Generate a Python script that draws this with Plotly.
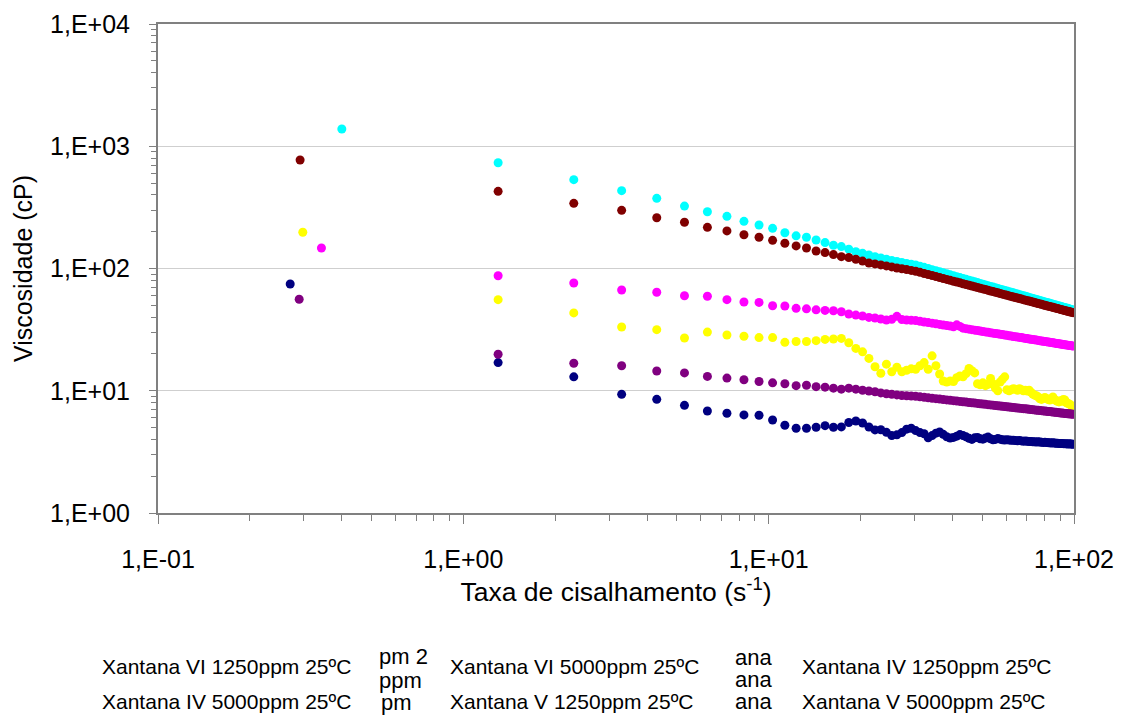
import plotly.graph_objects as go

# ---------------- data ----------------
shear_rate = [1.3, 2.3, 3.3, 4.3, 5.3, 6.3, 7.3, 8.3, 9.3, 10.3,
              11.3, 12.3, 13.3, 14.3, 15.3, 16.3, 17.3, 18.3, 19.3, 20.3,
              21.3, 22.3, 23.3, 24.3, 25.3, 26.3, 27.3, 28.3, 29.3, 30.3,
              31.3, 32.3, 33.3, 34.3, 35.3, 36.3, 37.3, 38.3, 39.3, 40.3,
              41.3, 42.3, 43.3, 44.3, 45.3, 46.3, 47.3, 48.3, 49.3, 50.3,
              51.3, 52.3, 53.3, 54.3, 55.3, 56.3, 57.3, 58.3, 59.3, 60.3,
              61.3, 62.3, 63.3, 64.3, 65.3, 66.3, 67.3, 68.3, 69.3, 70.3,
              71.3, 72.3, 73.3, 74.3, 75.3, 76.3, 77.3, 78.3, 79.3, 80.3,
              81.3, 82.3, 83.3, 84.3, 85.3, 86.3, 87.3, 88.3, 89.3, 90.3,
              91.3, 92.3, 93.3, 94.3, 95.3, 96.3, 97.3, 98.3, 99.3]

# first (low-rate) point of every series
first_x = {"navy": 0.271, "magenta": 0.343, "yellow": 0.298,
           "cyan": 0.40, "purple": 0.290, "maroon": 0.292}
first_y = {"navy": 74.7, "magenta": 147, "yellow": 198,
           "cyan": 1384, "purple": 56.0, "maroon": 772}

visc_vi_1250 = [17.0, 13.0, 9.35, 8.51, 7.60, 6.83, 6.54, 6.34, 6.30, 5.76,
                5.22, 4.93, 4.93, 5.03, 5.18, 5.03, 5.06, 5.50, 5.66, 5.45,
                5.05, 4.78, 4.80, 4.57, 4.30, 4.36, 4.55, 4.85, 4.93, 4.72,
                4.55, 4.45, 4.12, 4.30, 4.50, 4.60, 4.40, 4.20, 4.10, 4.15,
                4.25, 4.38, 4.30, 4.20, 4.08, 4.00, 4.12, 4.15, 4.05, 4.02,
                4.10, 4.18, 4.05, 3.97, 4.00, 4.06, 4.02, 3.97, 3.95, 3.98,
                3.95, 3.93, 3.94, 3.92, 3.90, 3.91, 3.89, 3.87, 3.88, 3.86,
                3.84, 3.85, 3.83, 3.82, 3.81, 3.82, 3.80, 3.79, 3.78, 3.79,
                3.77, 3.76, 3.75, 3.74, 3.75, 3.73, 3.72, 3.72, 3.71, 3.70,
                3.70, 3.69, 3.69, 3.68, 3.67, 3.68, 3.66, 3.66, 3.65]

visc_vi_5000 = [87.3, 76.1, 66.7, 63.9, 59.9, 59.3, 55.6, 53.2, 52.8, 49.6,
                49.3, 47.2, 46.8, 45.9, 45.4, 45.1, 44.3, 42.4, 41.6, 40.9,
                39.8, 39.4, 38.6, 37.9, 38.4, 40.6, 38.3, 37.9, 37.7, 37.5,
                37.0, 36.5, 36.1, 35.7, 35.3, 34.9, 34.5, 34.1, 33.8, 33.4,
                34.6, 33.6, 32.5, 32.2, 31.9, 31.6, 31.3, 31.1, 30.8, 30.5,
                30.3, 30.1, 29.8, 29.6, 29.4, 29.2, 29.0, 28.8, 28.6, 28.4,
                28.2, 28.0, 27.8, 27.7, 27.5, 27.3, 27.2, 27.0, 26.8, 26.7,
                26.5, 26.4, 26.2, 26.1, 26.0, 25.8, 25.7, 25.5, 25.4, 25.3,
                25.2, 25.0, 24.9, 24.8, 24.7, 24.6, 24.4, 24.3, 24.2, 24.1,
                24.0, 23.9, 23.8, 23.7, 23.6, 23.5, 23.4, 23.3, 23.2]

visc_iv_1250 = [55.6, 43.3, 33.2, 31.6, 27.0, 30.2, 28.6, 27.9, 27.2, 27.2,
                24.9, 25.3, 25.3, 25.7, 26.3, 26.5, 26.8, 24.7, 22.2, 20.8,
                18.4, 15.7, 13.9, 16.5, 14.3, 15.6, 14.3, 14.7, 15.1, 15.0,
                16.0, 17.0, 15.0, 19.3, 16.0, 13.7, 12.0, 11.8, 12.0, 11.9,
                12.8, 13.2, 13.0, 13.8, 15.2, 14.6, 14.0, 11.4, 11.2, 11.6,
                11.0, 11.3, 12.6, 11.4, 10.5, 10.0, 11.8, 12.4, 13.0, 10.2,
                10.0, 10.2, 10.4, 10.3, 10.1, 10.4, 10.2, 10.0, 10.1, 9.95,
                10.1, 9.7, 9.4, 9.2, 9.1, 8.9, 8.6, 8.5, 8.7, 8.8,
                8.6, 8.5, 8.4, 8.6, 8.9, 8.5, 8.3, 8.2, 8.1, 8.3,
                8.2, 8.5, 8.4, 8.0, 7.9, 7.8, 7.7, 7.5, 7.4]

visc_iv_5000 = [733, 533, 433, 375, 324, 291, 267, 243, 227, 213,
                196, 185, 180, 171, 163, 155, 151, 144, 137, 133,
                129, 125, 122, 119, 116.5, 114, 112, 110, 108.5, 107,
                104.5, 102.2, 100.0, 97.9, 95.9, 94.0, 92.2, 90.5, 88.8, 87.3,
                85.8, 84.3, 82.9, 81.5, 80.3, 79.0, 77.8, 76.7, 75.5, 74.5,
                73.4, 72.4, 71.4, 70.5, 69.6, 68.7, 67.8, 67.0, 66.2, 65.4,
                64.6, 63.9, 63.2, 62.5, 61.8, 61.1, 60.5, 59.8, 59.2, 58.6,
                58.0, 57.4, 56.9, 56.3, 55.8, 55.3, 54.8, 54.3, 53.8, 53.3,
                52.8, 52.4, 51.9, 51.5, 51.1, 50.6, 50.2, 49.8, 49.4, 49.0,
                48.6, 48.3, 47.9, 47.5, 47.2, 46.8, 46.5, 46.1, 45.8]

visc_v_1250 = [19.9, 16.8, 16.0, 14.5, 14.0, 13.1, 12.7, 12.3, 11.9, 11.6,
               11.4, 11.0, 11.1, 10.8, 10.7, 10.5, 10.3, 10.5, 10.3, 10.1,
               9.95, 9.82, 9.6, 9.45, 9.35, 9.25, 9.15, 9.1, 9.05, 9.00,
               8.92, 8.84, 8.76, 8.69, 8.62, 8.55, 8.48, 8.42, 8.36, 8.30,
               8.24, 8.18, 8.13, 8.08, 8.02, 7.97, 7.93, 7.88, 7.83, 7.79,
               7.74, 7.70, 7.66, 7.62, 7.58, 7.54, 7.50, 7.47, 7.43, 7.40,
               7.36, 7.33, 7.29, 7.26, 7.23, 7.20, 7.17, 7.14, 7.11, 7.08,
               7.05, 7.02, 7.00, 6.97, 6.94, 6.92, 6.89, 6.87, 6.84, 6.82,
               6.79, 6.77, 6.75, 6.72, 6.70, 6.68, 6.66, 6.63, 6.61, 6.59,
               6.57, 6.55, 6.53, 6.51, 6.49, 6.47, 6.45, 6.44, 6.42]

visc_v_5000 = [428, 341, 299, 260, 239, 217, 203, 189, 180, 170,
               161, 153, 147, 139, 135, 130, 125, 123, 119, 115,
               111, 109, 107, 105, 103, 101, 99.5, 98.0, 96.5, 95.0,
               93.0, 91.1, 89.3, 87.6, 85.9, 84.3, 82.9, 81.4, 80.0, 78.7,
               77.5, 76.3, 75.1, 74.0, 72.9, 71.9, 70.9, 69.9, 69.0, 68.1,
               67.2, 66.3, 65.5, 64.7, 63.9, 63.2, 62.5, 61.7, 61.1, 60.4,
               59.7, 59.1, 58.5, 57.9, 57.3, 56.7, 56.2, 55.6, 55.1, 54.6,
               54.1, 53.6, 53.1, 52.6, 52.2, 51.7, 51.3, 50.9, 50.4, 50.0,
               49.6, 49.2, 48.8, 48.5, 48.1, 47.7, 47.4, 47.0, 46.7, 46.3,
               46.0, 45.6, 45.3, 45.0, 44.7, 44.4, 44.1, 43.8, 43.5]

series_names = ["Xantana VI 1250ppm 25ºC", "Xantana VI 5000ppm 25ºC",
                "Xantana IV 1250ppm 25ºC", "Xantana IV 5000ppm 25ºC",
                "Xantana V 1250ppm 25ºC", "Xantana V 5000ppm 25ºC"]
series_keys = ["navy", "magenta", "yellow", "cyan", "purple", "maroon"]
series_values = [visc_vi_1250, visc_vi_5000, visc_iv_1250,
                 visc_iv_5000, visc_v_1250, visc_v_5000]
series_colors = ["#000080", "#FF00FF", "#FFFF00", "#00FFFF", "#800080", "#800000"]

x_ticks = [0.1, 1, 10, 100]
x_ticktext = ["1,E-01", "1,E+00", "1,E+01", "1,E+02"]
y_ticks = [1, 10, 100, 1000, 10000]
y_ticktext = ["1,E+00", "1,E+01", "1,E+02", "1,E+03", "1,E+04"]

# ---------------- figure ----------------
FONT = "Arial, 'Liberation Sans', sans-serif"
OFF = 8                      # page body margin of the html page
W, H = 1129 - OFF, 720 - OFF
# plot area in page pixels: x 158..1074, y 24..513
L, T = 158 - OFF, 24 - OFF
R = W - (1074 - OFF)
B = H - (513 - OFF)
PW, PH = W - L - R, H - T - B

fig = go.Figure()
for name, key, vals, col in zip(series_names, series_keys, series_values, series_colors):
    fig.add_trace(go.Scatter(
        x=[first_x[key]] + shear_rate,
        y=[first_y[key]] + vals,
        mode="markers", name=name,
        marker=dict(color=col, size=9, line=dict(width=0)),
        showlegend=False,
    ))

minor_x = [m * 10 ** e for e in (-1, 0, 1) for m in range(2, 10)]
minor_y = [m * 10 ** e for e in (0, 1, 2, 3) for m in range(2, 10)]

fig.update_xaxes(
    type="log", range=[-1, 2],
    tickmode="array", tickvals=x_ticks, ticktext=x_ticktext,
    ticks="outside", ticklen=9, tickwidth=1, tickcolor="#808080",
    ticklabelstandoff=14,
    showline=True, linecolor="#808080", linewidth=2, mirror=True,
    showgrid=False, zeroline=False,
    minor=dict(tickmode="array", tickvals=minor_x, ticks="outside",
               ticklen=6, tickcolor="#808080", showgrid=False),
    tickfont=dict(family=FONT, size=25, color="black"),
    title=dict(text="Taxa de cisalhamento (s<sup>-1</sup>)",
               font=dict(family=FONT, size=26.5, color="black"), standoff=0),
)
fig.update_yaxes(
    type="log", range=[0, 4],
    tickmode="array", tickvals=y_ticks, ticktext=y_ticktext,
    ticks="outside", ticklen=7, tickwidth=1, tickcolor="#808080",
    ticklabelstandoff=14,
    showline=True, linecolor="#808080", linewidth=2, mirror=True,
    showgrid=True, gridcolor="#cfcfcf", gridwidth=1.2, zeroline=False,
    minor=dict(tickmode="array", tickvals=minor_y, ticks="outside",
               ticklen=5, tickcolor="#808080", showgrid=False),
    tickfont=dict(family=FONT, size=25, color="black"),
    title=dict(text="Viscosidade (cP)",
               font=dict(family=FONT, size=25, color="black"), standoff=10),
)

def px_to_paper(px, py):
    # page pixel -> paper coordinates of the plot area
    return (px - OFF - L) / PW, (H - B - (py - OFF)) / PH

annotations = []
legend_pos = [(100, 666), (448, 666), (800, 666),
              (100, 701), (448, 701), (800, 701)]
for name, (px, py) in zip(series_names, legend_pos):
    ax, ay = px_to_paper(px, py)
    annotations.append(dict(text=name, x=ax, y=ay, xref="paper", yref="paper",
                            xanchor="left", yanchor="middle", showarrow=False,
                            font=dict(family=FONT, size=21, color="black")))

# clipped legend fragments visible in the original image
fragments = [("pm 2", 377, 656), ("ppm", 377, 680), ("pm", 379, 702),
             ("ana", 733, 657), ("ana", 733, 679), ("ana", 733, 701)]
for txt, px, py in fragments:
    ax, ay = px_to_paper(px, py)
    annotations.append(dict(text=txt, x=ax, y=ay, xref="paper", yref="paper",
                            xanchor="left", yanchor="middle", showarrow=False,
                            font=dict(family=FONT, size=22, color="black")))

fig.update_layout(
    width=W, height=H,
    margin=dict(l=L, r=R, t=T, b=B, autoexpand=False),
    paper_bgcolor="white", plot_bgcolor="white",
    annotations=annotations,
    showlegend=False,
)

fig.write_html("out.html")
